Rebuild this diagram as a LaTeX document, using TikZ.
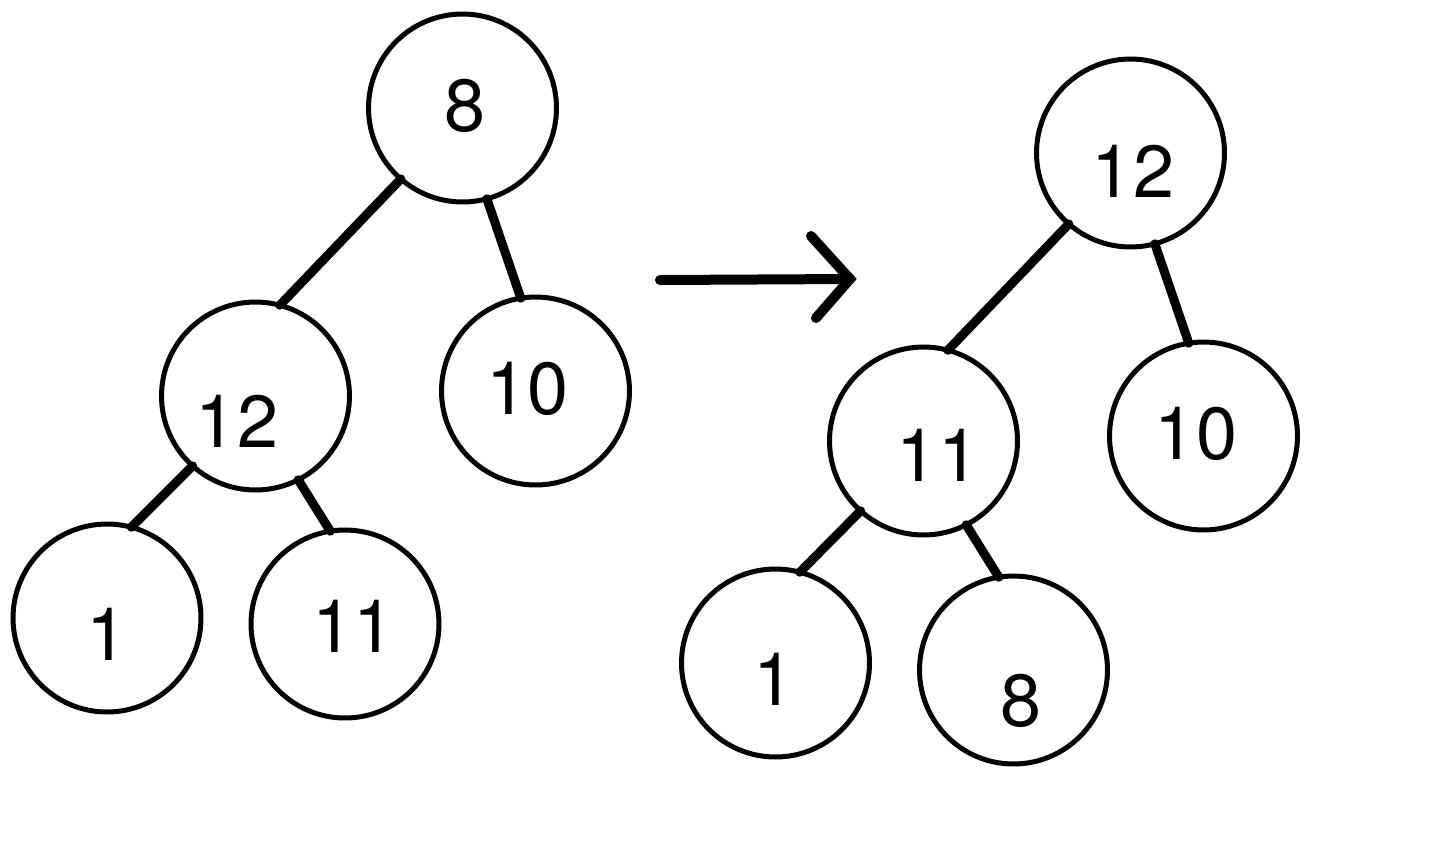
\documentclass[tikz,border=0pt]{standalone}
\usepackage{fontspec}
\setmainfont{TeX Gyre Heros}
\begin{document}
\begin{tikzpicture}[x = 0.02cm, y = -0.02cm,
    vertex/.style = {circle, draw, line width = 0.1cm, minimum size = 3.76cm, inner sep = 0pt, outer sep = 0pt},
    tal/.style = {font = \fontsize{42}{50}\selectfont, inner sep = 0pt},
    kant/.style = {line width = 0.18cm, line cap = round}]
  \useasboundingbox (0, 0) rectangle (1440, 840);
  \node[vertex, label = {[tal, shift = {(3, -2)}]center:8}] (l8) at (462.5, 108) {};
  \node[vertex, label = {[tal, shift = {(-18.5, 25.5)}]center:12}] (l12) at (255.5, 396) {};
  \node[vertex, label = {[tal, shift = {(-8, -2.5)}]center:10}] (l10) at (535.5, 391) {};
  \node[vertex, label = {[tal, shift = {(0, 16)}]center:1}] (l1) at (107, 618) {};
  \node[vertex, label = {[tal, shift = {(8.5, 2.5)}]center:11}] (l11) at (345, 624) {};
  \node[vertex, label = {[tal, shift = {(2.5, 18)}]center:12}] (r12) at (1130.5, 153) {};
  \node[vertex, label = {[tal, shift = {(14.5, 14)}]center:11}] (r11) at (923.5, 441) {};
  \node[vertex, label = {[tal, shift = {(-7.5, -2)}]center:10}] (r10) at (1203.5, 436) {};
  \node[vertex, label = {[tal, shift = {(-1.5, 16)}]center:1}] (r1) at (775.5, 663) {};
  \node[vertex, label = {[tal, shift = {(8, 31)}]center:8}] (r8) at (1013.5, 670) {};
  \foreach \fra/\til in {l8.229/l12.75, l8.285/l10.99, l12.228/l1.75, l12.297/l11.99,
                         r12.229/r11.75, r12.285/r10.99, r11.228/r1.75, r11.297/r8.99}
    \draw[kant] (\fra) -- (\til);
  \coordinate (pilstart) at (660, 280);
  \coordinate (pilspiss) at (850, 279);
  \draw[line width = 0.2cm, line cap = round] (pilstart) -- (pilspiss);
  \draw[line width = 0.2cm, line cap = round, line join = miter] (811, 236) -- (pilspiss) -- (816, 318);
\end{tikzpicture}
\end{document}
